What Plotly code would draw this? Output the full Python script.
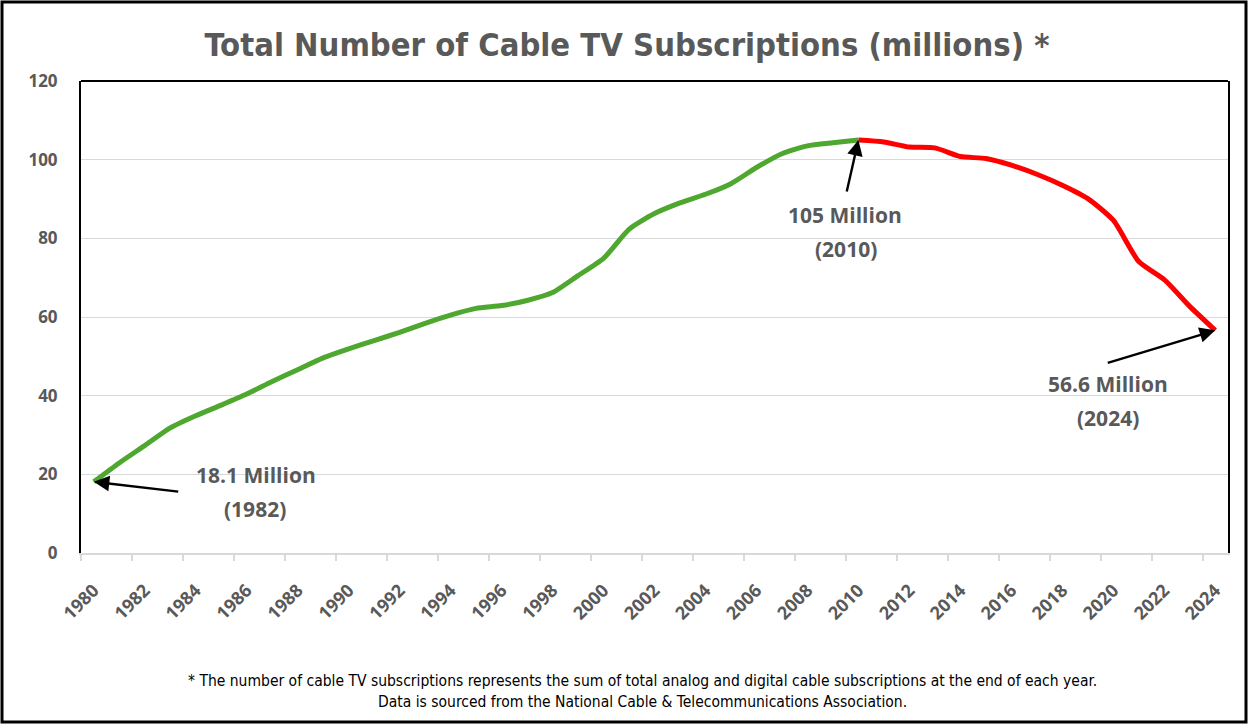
import plotly.graph_objects as go

years = [str(y) for y in range(1980, 2025)]
subs = [18.1, 22.9, 27.3, 31.8, 34.9, 37.6, 40.4, 43.6, 46.6, 49.6,
        51.9, 54.0, 56.1, 58.4, 60.5, 62.2, 62.9, 64.2, 66.2, 70.5,
        74.9, 82.3, 86.3, 89.0, 91.2, 93.9, 98.0, 101.5, 103.5, 104.3,
        105.0, 104.5, 103.2, 103.0, 100.8, 100.3, 98.6, 96.3, 93.5, 90.1,
        84.6, 74.1, 69.5, 62.7, 56.6]
peak_idx = years.index("2010")
callouts = ["1980", "2010", "2024"]

title_text = "Total Number of Cable TV Subscriptions (millions) *"
foot1 = "* The number of cable TV subscriptions represents the sum of total analog and digital cable subscriptions at the end of each year."
foot2 = "Data is sourced from the National Cable &amp; Telecommunications Association."

GRAY = "#595959"
COND = "Liberation Sans Narrow, DejaVu Sans Condensed, Roboto, sans-serif"
LBL = "Open Sans, Roboto, sans-serif"

fig = go.Figure()
fig.add_trace(go.Scatter(x=years[:peak_idx + 1], y=subs[:peak_idx + 1], mode="lines",
                         line=dict(color="#4EA72E", width=5, shape="spline", smoothing=0.6),
                         hoverinfo="x+y", showlegend=False))
fig.add_trace(go.Scatter(x=years[peak_idx:], y=subs[peak_idx:], mode="lines",
                         line=dict(color="#FF0000", width=5, shape="spline", smoothing=0.6),
                         hoverinfo="x+y", showlegend=False))

L, R, T, B = 81, 21, 81, 172
W, H = 1249, 725
pw, ph = W - L - R, H - T - B
YMAX = 120
ncat = len(years)

def px(x):
    return (x - L) / pw

def py(y):
    return (H - B - y) / ph

annotations = []
# arrows: head at the data point (converted with the axis' own linear category scale)
for yr, ax, ay in zip(callouts, [86, -12, -109], [10, 53, 33]):
    i = years.index(yr)
    annotations.append(dict(x=(i + 0.5) / ncat, y=subs[i] / YMAX, xref="paper", yref="paper",
                            text="", showarrow=True,
                            ax=ax, ay=ay, arrowhead=2, arrowsize=1.3, arrowwidth=2.4,
                            arrowcolor="#000000", standoff=0, startstandoff=0))
# labels
for txt, cx, cy in [("18.1 Million", 256, 475), ("(1982)", 255, 509),
                    ("105 Million", 845, 215), ("(2010)", 846, 249),
                    ("56.6 Million", 1108, 384), ("(2024)", 1108, 418)]:
    annotations.append(dict(x=px(cx), y=py(cy), xref="paper", yref="paper", text=txt,
                            showarrow=False, xanchor="center", yanchor="middle",
                            font=dict(family=LBL, size=21, color=GRAY, weight="bold")))
# footnotes
for txt, cy in [(foot1, 681), (foot2, 702)]:
    annotations.append(dict(x=px(642), y=py(cy), xref="paper", yref="paper", text=txt,
                            showarrow=False, xanchor="center", yanchor="middle",
                            font=dict(family=COND, size=15.5, color="#000000")))

shapes = [
    dict(type="line", xref="paper", yref="paper", x0=0, x1=1, y0=1, y1=1,
         line=dict(color="#000000", width=2)),
    dict(type="rect", xref="paper", yref="paper",
         x0=px(2), x1=px(1246), y0=py(722), y1=py(2),
         line=dict(color="#000000", width=3), fillcolor="rgba(0,0,0,0)", layer="below"),
]

fig.update_layout(
    width=W, height=H,
    margin=dict(l=L, r=R, t=T, b=B),
    paper_bgcolor="white", plot_bgcolor="white",
    title=dict(text=title_text, x=627 / W, y=1 - 45 / H, xanchor="center", yanchor="middle",
               xref="container", yref="container",
               font=dict(family=COND, size=32.5, color=GRAY, weight="bold")),
    annotations=annotations,
    shapes=shapes,
    xaxis=dict(type="category", categoryorder="array", categoryarray=years,
               range=[-0.5, ncat - 0.5], dtick=2, tickson="boundaries",
               ticks="outside", ticklen=6, tickcolor="#D9D9D9", tickwidth=1.5,
               showgrid=False, showline=True, linecolor="#D9D9D9", linewidth=1.5,
               tickangle=-45, ticklabelstandoff=18,
               tickfont=dict(family=LBL, size=18, color=GRAY, weight="bold"),
               zeroline=False),
    yaxis=dict(range=[0, YMAX], dtick=20, showgrid=True, gridcolor="#D9D9D9", gridwidth=1,
               showline=True, linecolor="#000000", linewidth=2, mirror=True,
               ticks="", ticklabelstandoff=18,
               tickfont=dict(family=LBL, size=17, color=GRAY, weight="bold"),
               zeroline=False),
)

fig.write_html("out.html")
